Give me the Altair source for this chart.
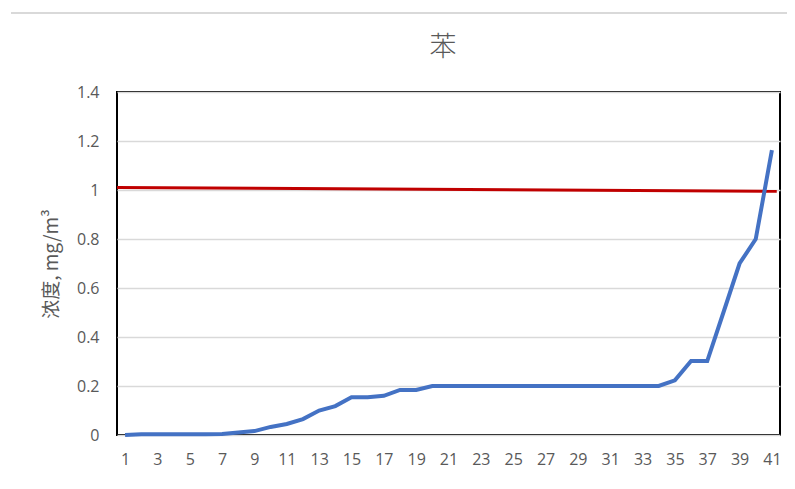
import altair as alt
import pandas as pd

# Blue series: benzene concentration for samples 1..41
sample = list(range(1, 42))
conc = [0.0, 0.003, 0.003, 0.003, 0.003, 0.003, 0.004, 0.01, 0.016, 0.033,
        0.045, 0.065, 0.1, 0.118, 0.154, 0.154, 0.16, 0.184, 0.184, 0.2,
        0.2, 0.2, 0.2, 0.2, 0.2, 0.2, 0.2, 0.2, 0.2, 0.2,
        0.2, 0.2, 0.2, 0.2, 0.223, 0.302, 0.302, 0.5, 0.7, 0.8, 1.163]

# Red limit line
limit_x = [0.5, 41.3]
limit_y = [1.01, 0.995]

x_ticks = list(range(1, 42, 2))
y_ticks = [0, 0.2, 0.4, 0.6, 0.8, 1.0, 1.2, 1.4]

chart_title = "苯"

df = pd.DataFrame({"sample": sample, "conc": conc})
lim = pd.DataFrame({"sample": limit_x, "conc": limit_y})

font = "Open Sans"
cjk = "Noto Sans CJK SC"
grey = "#595959"

x_enc = alt.X("sample:Q",
              scale=alt.Scale(domain=[0.5, 41.5], nice=False, zero=False),
              axis=alt.Axis(values=x_ticks, title=None, grid=False, ticks=False,
                            domain=False, labelFont=font, labelFontSize=16,
                            labelColor=grey, labelPadding=16, labelFlush=False,
                            labelOverlap=False, labelBound=False))
y_enc = alt.Y("conc:Q",
              scale=alt.Scale(domain=[0, 1.4], nice=False),
              axis=alt.Axis(values=y_ticks, title="浓度, mg/m³", grid=True,
                            gridColor="#d9d9d9", gridWidth=1.3, ticks=False,
                            domain=False, labelFont=font, labelFontSize=16,
                            labelColor=grey, labelPadding=18,
                            titleFont=cjk, titleFontSize=19, titleColor=grey,
                            titleFontWeight="normal", titlePadding=15,
                            format="~g"))

blue = alt.Chart(df).mark_line(color="#4472C4", strokeWidth=4).encode(x=x_enc, y=y_enc)
red = alt.Chart(lim).mark_line(color="#C00000", strokeWidth=3).encode(x=x_enc, y=y_enc)

one = pd.DataFrame({"k": [0]})

# light grey chart-area frame (top edge)
frame = alt.Chart(one).mark_rule(
    color="#d9d9d9", strokeWidth=2, clip=False
).encode(x=alt.value(-106), x2=alt.value(675), y=alt.value(-79))

title = alt.Chart(one).mark_text(
    font=cjk, fontSize=27, fontWeight=300, color=grey,
    align="center", baseline="middle", clip=False
).encode(x=alt.value(326), y=alt.value(-44), text=alt.value(chart_title))

chart = alt.layer(frame, title, red, blue).properties(
    width=663, height=343,
    background="white",
    autosize=alt.AutoSizeParams(type="none"),
    padding={"left": 109, "top": 84, "right": 7, "bottom": 46},
).configure_view(stroke="black", strokeWidth=2).configure_axis(labelOverlap=False)

chart.save("out.html", embed_options={"renderer": "svg", "actions": False})
